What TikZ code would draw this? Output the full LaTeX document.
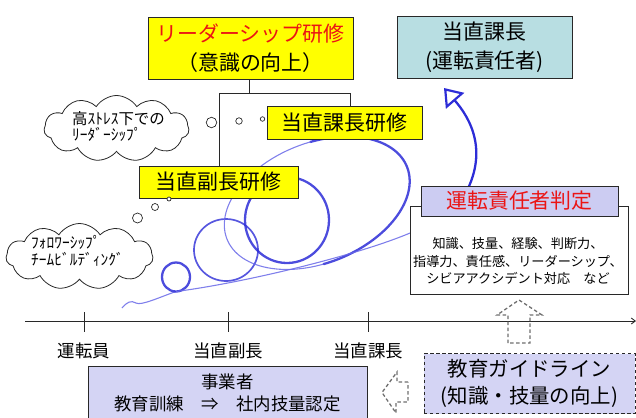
\documentclass[tikz,border=0pt]{standalone}
\usepackage{fontspec}
\setmainfont{Noto Sans CJK JP}
\usetikzlibrary{shapes.symbols,arrows.meta}
\definecolor{byellow}{RGB}{255,255,0}
\definecolor{bteal}{RGB}{184,222,226}
\definecolor{blav}{RGB}{204,204,242}
\definecolor{blav2}{RGB}{212,212,244}
\definecolor{bred}{RGB}{235,20,20}
\definecolor{spthk}{RGB}{45,45,215}
\definecolor{spthn}{RGB}{105,105,232}
\definecolor{edge}{RGB}{40,40,40}
\definecolor{dgray}{RGB}{110,110,110}
\newcommand\fsz[2]{\fontsize{#1}{#2}\selectfont}
\begin{document}
\begin{tikzpicture}[x=1bp,y=-1bp,
  declare function={
    dlx(\q)=317+97*cos(\q)*0.927+60*sin(\q)*0.375;
    dly(\q)=203-97*cos(\q)*0.375+60*sin(\q)*0.927;
  },
  box/.style={draw=edge, line width=0.9pt, inner sep=0pt, align=center},
  ybox/.style={box, fill=byellow},
  bigtxt/.style={font=\fsz{21}{29}},
  cloudsty/.style={cloud, draw=edge, fill=white, line width=0.8pt, cloud puffs=11, cloud puff arc=115, aspect=2.2, inner sep=0pt},
  cloudtxt/.style={font=\fsz{15.5}{17}, align=left, inner sep=0pt, anchor=west},
  bubble/.style={circle, draw=edge, fill=white, line width=0.7pt, inner sep=0pt},
  axlbl/.style={font=\fsz{17.5}{21}, inner sep=0pt},
  spthin/.style={draw=spthn, line width=1.1pt, opacity=0.85},
  spmed/.style={draw=spthk, line width=1.7pt, opacity=0.8},
  spthick/.style={draw=spthk, line width=2.3pt, opacity=0.85, line cap=round},
  blockarr/.style={draw=dgray, line width=1.3pt, dash pattern=on 3.5pt off 2.5pt},
]
\useasboundingbox (0,0) rectangle (636,417);

% ---- spiral (behind boxes)
\coordinate (spst) at (122,308);
\coordinate (spa) at (176,291.5);
\coordinate (spmid) at (463,198);
\coordinate (sptip) at (444,88);
% lead-in
\draw[spthin] (spst) .. controls (127,302) and (131,300) .. (136,303) .. controls (141,306) and (160,297) .. (spa);
% loops
\draw[spthick] (176,277) ellipse [x radius=14, y radius=14.5];
\draw[spmed] (226,250) ellipse [x radius=32, y radius=31];
\draw[spthick] (287,220) ellipse [x radius=42, y radius=43];
\draw[spthick] plot[domain=-80:100, samples=61, smooth, variable=\x] ({dlx(\x)},{dly(\x)});
\draw[spthin] plot[domain=100:280, samples=61, smooth, variable=\x] ({dlx(\x)},{dly(\x)});
% long back stroke into the judgement box, then up to the arrow
\draw[spthin] (spa) .. controls (250,282) and (380,250) .. (425,226) .. controls (445,215) and (455,210) .. (spmid);
\draw[spthick, opacity=1, -{Triangle[open, length=17bp, width=24bp, line width=2.2pt]}]
  (spmid) .. controls (490,152) and (470,118) .. (sptip);

% ---- top boxes
\node[ybox, minimum width=205bp, minimum height=62bp, bigtxt] (lead) at (250.5,48)
  {\textcolor{bred}{リーダーシップ研修}\\（意識の向上）};
\node[box, fill=bteal, minimum width=175bp, minimum height=62bp, bigtxt] (kacho) at (484.5,47)
  {当直課長\\(運転責任者)};

% ---- bracket
\coordinate (bm) at (249,93);
\coordinate (bl) at (219,93);
\coordinate (br) at (350,93);
\node[ybox, minimum width=155bp, minimum height=33bp, bigtxt] (kachoken) at (344.5,122.5) {当直課長研修};
\node[ybox, minimum width=159bp, minimum height=32bp, bigtxt] (fukuken) at (218.5,182) {当直副長研修};
\draw[draw=edge, line width=0.9pt] (lead.south -| bm) -- (bm);
\draw[draw=edge, line width=0.9pt] (fukuken.north -| bl) -- (bl) -- (br) -- (kachoken.north -| br);

% ---- clouds
\node[cloudsty, minimum width=145bp, minimum height=66bp] (cl1) at (116.5,128.5) {};
\node[cloudtxt] (cl1t) at (72,126.5) {高ｽﾄﾚｽ下での\\ﾘｰﾀﾞｰｼｯﾌﾟ};
\node[bubble, minimum size=10.5bp] (b11) at (211.5,122.5) {};
\node[bubble, minimum size=6.5bp] (b12) at (239,121) {};
\node[bubble, minimum size=4.5bp] (b13) at (262.5,119) {};

\node[cloudsty, minimum width=147bp, minimum height=66bp] (cl2) at (79.5,256.5) {};
\node[cloudtxt] (cl2t) at (31,250.5) {ﾌｫﾛﾜｰｼｯﾌﾟ\\ﾁｰﾑﾋﾞﾙﾃﾞｨﾝｸﾞ};
\node[bubble, minimum size=10bp] (b21) at (137.5,218) {};
\node[bubble, minimum size=7bp] (b22) at (155,207) {};
\node[bubble, minimum size=4bp] (b23) at (169,199) {};

% ---- judgement
\node[box, fill=white, minimum width=218bp, minimum height=88bp] (jbody) at (519,250) {};
\node[box, fill=blav, minimum width=197bp, minimum height=30bp, bigtxt] (jtitle) at (519.5,201)
  {\textcolor{bred}{運転責任者判定}};
\node[inner sep=0pt, align=center, font=\fsz{13.2}{18}] (jtxt) at (518,261)
  {知識、技量、経験、判断力、\\指導力、責任感、リーダーシップ、\\シビアアクシデント対応　など};

% ---- axis
\coordinate (ax0) at (25,321);
\coordinate (ax1) at (636,321);
\draw[draw=edge, line width=0.9pt, -{Straight Barb[length=4bp, width=6bp]}] (ax0) -- (ax1);
\foreach \x/\n/\t in {84/l1/運転員, 228/l2/当直副長, 368/l3/当直課長}{
  \draw[draw=edge, line width=0.9pt] (\x,312) -- (\x,332);
  \node[axlbl] (\n) at (\x,351) {\t};
}

% ---- bottom boxes
\node[box, fill=blav2, minimum width=279bp, minimum height=54bp, font=\fsz{17.5}{22}] (biz) at (227.5,393)
  {事業者\\教育訓練　⇒　社内技量認定};
\node[box, fill=blav2, dash pattern=on 3.5pt off 2.5pt, minimum width=211bp, minimum height=60bp, font=\fsz{20.5}{27}] (guide) at (529.5,383.5)
  {教育ガイドライン\\(知識・技量の向上)};

% ---- dashed block arrows
\draw[blockarr] (508,343) -- (508,315) -- (497,315) -- (519,300) -- (542,315) -- (530,315) -- (530,343) -- cycle;
\draw[blockarr] (408,382) -- (397,382) -- (397,372) -- (382,392.5) -- (396,413) -- (396,402) -- (408,402) -- cycle;
\end{tikzpicture}
\end{document}
